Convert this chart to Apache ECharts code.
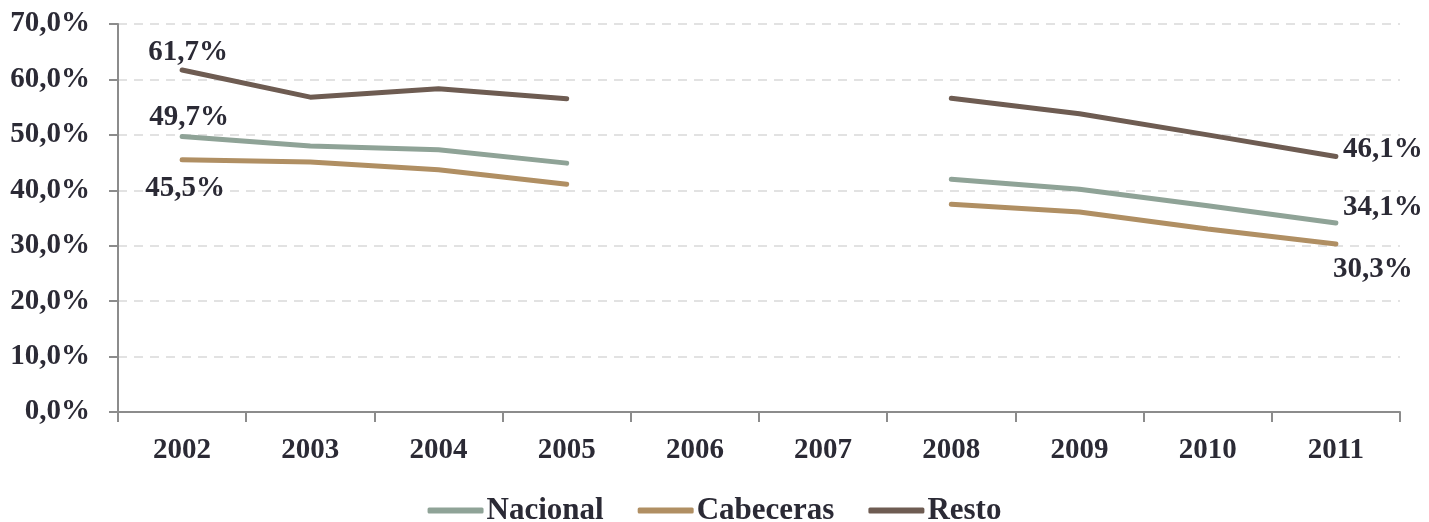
<!DOCTYPE html>
<html>
<head>
<meta charset="utf-8">
<script src="https://cdn.jsdelivr.net/npm/echarts@6/dist/echarts.min.js"></script>
<style>
  html, body { margin: 0; padding: 0; background: #fff; }
  #chart { width: 1429px; height: 522px; }
</style>
</head>
<body>
<div id="chart"></div>
<script>
  // datos
  const years = ['2002', '2003', '2004', '2005', '2006', '2007', '2008', '2009', '2010', '2011'];
  const nacional = [49.7, 48.0, 47.3, 44.9, null, null, 42.0, 40.2, 37.2, 34.1];
  const cabeceras = [45.5, 45.1, 43.7, 41.1, null, null, 37.5, 36.1, 33.0, 30.3];
  const resto = [61.7, 56.8, 58.3, 56.5, null, null, 56.6, 53.8, 50.0, 46.1];
  const yTicks = [0, 10, 20, 30, 40, 50, 60, 70];

  const font = '"Liberation Serif", "DejaVu Serif", serif';
  const textColor = '#2b2a35';

  const fmt = v => v.toFixed(1).replace('.', ',') + '%';

  // etiquetas solo en el primer y ultimo punto
  function withLabels(values, firstPos, lastPos) {
    return values.map((v, i) => {
      if (v === null) return null;
      if (i === 0 || i === values.length - 1) {
        const pos = i === 0 ? firstPos : lastPos;
        return {
          value: v,
          label: {
            show: true,
            position: pos.position,
            offset: pos.offset,
            formatter: p => fmt(p.value),
            fontFamily: font,
            fontWeight: 'bold',
            fontSize: 29,
            color: textColor
          }
        };
      }
      return v;
    });
  }

  function lineSeries(name, color, values, firstPos, lastPos) {
    return {
      name: name,
      type: 'line',
      symbol: 'circle',
      symbolSize: 0,
      showSymbol: true,
      connectNulls: false,
      lineStyle: { width: 5, color: color, cap: 'round' },
      itemStyle: { color: color },
      emphasis: { disabled: true },
      data: withLabels(values, firstPos, lastPos)
    };
  }

  const chart = echarts.init(document.getElementById('chart'));
  chart.setOption({
    backgroundColor: '#fff',
    animation: false,
    grid: { left: 118, right: 29, top: 24, bottom: 110 },
    legend: {
      top: 490,
      left: 'center',
      icon: 'roundRect',
      itemWidth: 56,
      itemHeight: 6,
      itemGap: 34,
      textStyle: { fontFamily: font, fontWeight: 'bold', fontSize: 31, color: textColor, padding: [0, 0, 0, -2] },
      data: ['Nacional', 'Cabeceras', 'Resto']
    },
    xAxis: {
      type: 'category',
      data: years,
      boundaryGap: true,
      axisLine: { lineStyle: { color: '#8c8c8c', width: 2 } },
      axisTick: { show: true, length: 10, lineStyle: { color: '#8c8c8c', width: 2 } },
      axisLabel: { margin: 24, fontFamily: font, fontWeight: 'bold', fontSize: 29, color: textColor }
    },
    yAxis: {
      type: 'value',
      min: yTicks[0],
      max: yTicks[yTicks.length - 1],
      interval: 10,
      axisLine: { show: true, lineStyle: { color: '#8c8c8c', width: 2 } },
      axisTick: { show: true, length: 9, lineStyle: { color: '#8c8c8c', width: 2 } },
      axisLabel: { margin: 28, formatter: v => fmt(v), fontFamily: font, fontWeight: 'bold', fontSize: 29, color: textColor },
      splitLine: { show: true, lineStyle: { color: '#d9d9d9', type: [9, 7], width: 1.5 } }
    },
    series: [
      lineSeries('Nacional', '#8fa397', nacional, { position: 'top', offset: [7, 0] }, { position: 'right', offset: [2, -15] }),
      lineSeries('Cabeceras', '#b08f63', cabeceras, { position: 'bottom', offset: [3, 9] }, { position: 'bottom', offset: [37, 6] }),
      lineSeries('Resto', '#6e5c52', resto, { position: 'top', offset: [6, 2] }, { position: 'right', offset: [2, -7] })
    ]
  });
</script>
</body>
</html>
